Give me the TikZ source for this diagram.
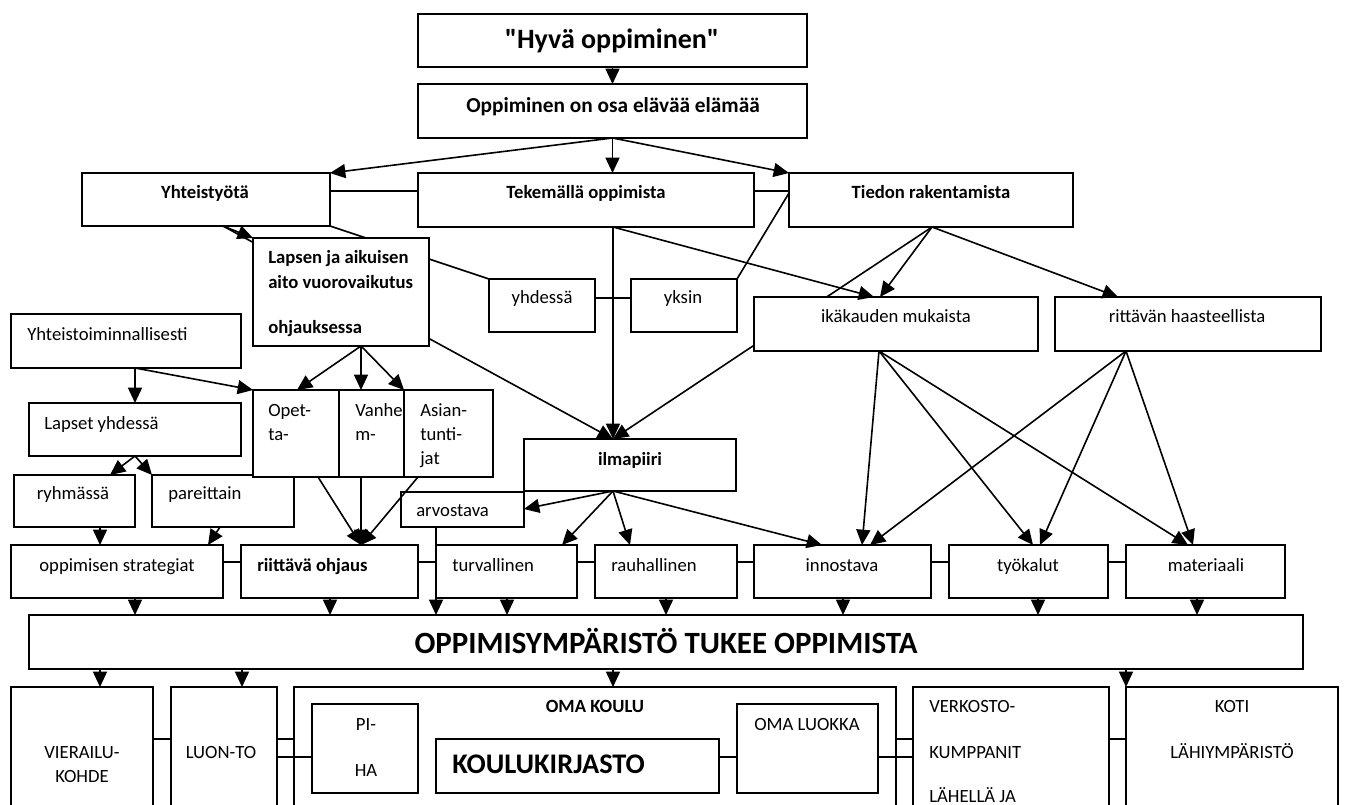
\documentclass[tikz,border=0pt]{standalone}
\usepackage{fontspec}
\setmainfont{Carlito}[Ligatures=TeXOff]
\usetikzlibrary{arrows.meta,calc}
\pgfdeclarelayer{bg}
\pgfsetlayers{bg,main}
\tikzset{
 boxst/.style={draw, fill=white, line width=1.35pt, inner sep=0pt, outer sep=0pt, rectangle},
 tx/.style={inner sep=0pt, anchor=base, font=\fontsize{14}{16}\selectfont},
 txl/.style={tx, anchor=base west},
 bf/.style={font=\fontsize{14}{16}\selectfont\bfseries},
 con/.style={line width=1.2pt},
 arr/.style={con, -{Triangle[length=11.5pt,width=10.5pt]}},
}
\newcommand\mkbox[5]{\node[boxst,minimum width={(#4-#2)*0.75pt},minimum height={(#5-#3)*0.75pt},anchor=north west] (#1) at (#2,#3) {};}
\begin{document}
\begin{tikzpicture}[x=0.75pt,y=-0.75pt]
\path[use as bounding box] (0,0) rectangle (1345,805);
\clip (0,0) rectangle (1345,805);
% ---------- boxes
\mkbox{hyva}{418}{14}{807}{67}
\mkbox{opp}{418}{84}{807}{138}
\mkbox{yht}{82}{173}{330}{226}
\mkbox{tek}{418}{173}{754}{227}
\mkbox{tie}{789}{173}{1073}{227}
\mkbox{lap}{253}{238}{429}{346}
\mkbox{yhd}{489}{279}{595}{332}
\mkbox{yks}{631}{279}{737}{332}
\mkbox{ika}{754}{297}{1038}{351}
\mkbox{rit}{1055}{297}{1321}{351}
\mkbox{ytm}{11}{314}{241}{368}
\mkbox{lye}{29}{403}{241}{456}
\mkbox{ryh}{14}{475}{135}{527}
\mkbox{par}{152}{475}{294}{527}
\mkbox{ope}{253}{390}{339}{477}
\mkbox{van}{339}{390}{404}{477}
\mkbox{asi}{404}{390}{493}{477}
\mkbox{ilm}{524}{439}{736}{491}
\mkbox{arv}{401}{492}{524}{527}
\mkbox{str}{11}{545}{223}{598}
\mkbox{rii}{241}{545}{418}{598}
\mkbox{tur}{436}{545}{577}{598}
\mkbox{rau}{595}{545}{737}{598}
\mkbox{inn}{754}{545}{931}{598}
\mkbox{tyo}{949}{545}{1108}{598}
\mkbox{mat}{1126}{545}{1285}{598}
\mkbox{ops}{29}{615}{1303}{669}
\mkbox{vie}{11}{687}{153}{830}
\mkbox{luo}{171}{687}{277}{830}
\mkbox{oma}{294}{687}{896}{830}
\mkbox{pih}{312}{704}{418}{793}
\mkbox{kou}{436}{739}{719}{793}
\mkbox{olu}{737}{704}{878}{793}
\mkbox{ver}{913}{687}{1109}{830}
\mkbox{kot}{1126}{687}{1338}{830}
% ---------- reference points on nodes
\coordinate (yB) at ($(yht.south west)+(141,0)$);
\coordinate (tkB) at ($(tek.south west)+(195,0)$);
\coordinate (tB) at ($(tie.south west)+(143,0)$);
\coordinate (ilmT) at ($(ilm.north west)+(89,0)$);
\coordinate (ilB) at ($(ilm.south west)+(89,0)$);
\coordinate (ytB) at ($(ytm.south west)+(124,0)$);
\coordinate (lapB) at ($(lap.south west)+(108,0)$);
\coordinate (riiT) at ($(rii.north west)+(120,0)$);
\coordinate (lyB) at ($(lye.south west)+(106,0)$);
\coordinate (ikB) at ($(ika.south west)+(125,0)$);
\coordinate (riB) at ($(rit.south west)+(71,0)$);
% ---------- connectors hidden behind boxes
\begin{pgfonlayer}{bg}
\draw[con] (yht.south east) -- (yhd.north west);
\draw[arr] (yB) -- (ilmT);
\draw[arr] (tB) -- (ilmT);
\end{pgfonlayer}
% ---------- connectors
\draw[arr] (opp.south |- hyva.south) -- (opp.south |- opp.north);
\draw[arr] (opp.south) -- (yht.north east);
\draw[arr] (opp.south) -- (opp.south |- tek.north);
\draw[arr] (opp.south) -- (tie.north west);
\draw[con] ($(yht.north east)+(0,18)$) -- ($(tek.north west)+(0,18)$);
\draw[con] ($(tek.north east)+(0,18)$) -- ($(tie.north west)+(0,18)$);
\draw[arr] (yB) -- (lap.north west);
\draw[arr] (tkB) -- (ilmT);
\draw[arr] (tkB) -- ($(ika.north west)+(120,0)$);
\draw[arr] (tB) -- ($(ika.north west)+(126,0)$);
\draw[arr] (tB) -- ($(rit.north west)+(63,0)$);
\draw[con] ($(yhd.north east)+(0,19)$) -- ($(yks.north west)+(0,19)$);
\draw[con] (yks.north east) -- ($(tie.north west)+(0,20)$);
\draw[arr] (ytB) -- (ytB |- lye.north);
\draw[arr] (ytB) -- (ope.north west);
\draw[arr] (lapB) -- ($(ope.north west)+(44,0)$);
\draw[arr] (lapB) -- (lapB |- van.north);
\draw[arr] (lapB) -- (asi.north west);
\draw[arr] ($(ope.south west)+(65,0)$) -- (riiT);
\draw[arr] ($(van.south west)+(22,0)$) -- (riiT);
\draw[arr] ($(asi.south west)+(14,0)$) -- (riiT);
\draw[arr] (lyB) -- ($(ryh.north west)+(96,0)$);
\draw[arr] (lyB) -- (par.north west);
\draw[arr] ($(ryh.south west)+(86,0)$) coordinate (rb) -- (rb |- str.north);
\draw[arr] ($(par.south west)+(68,0)$) -- ($(str.north west)+(197,0)$);
\draw[con] ($(str.north east)+(0,17)$) -- ($(rii.north west)+(0,17)$);
\draw[con] ($(rii.north east)+(0,17)$) -- ($(tur.north west)+(0,17)$);
\draw[con] ($(tur.north east)+(0,17)$) -- ($(rau.north west)+(0,17)$);
\draw[con] ($(rau.north east)+(0,17)$) -- ($(inn.north west)+(0,17)$);
\draw[con] ($(inn.north east)+(0,17)$) -- ($(tyo.north west)+(0,17)$);
\draw[con] ($(tyo.north east)+(0,17)$) -- ($(mat.north west)+(0,17)$);
\draw[arr] (ilB) -- ($(arv.north east)+(0,17)$);
\draw[arr] (ilB) -- ($(tur.north west)+(126,0)$);
\draw[arr] (ilB) -- ($(rau.north west)+(35,0)$);
\draw[arr] (ilB) -- ($(inn.north west)+(68,0)$);
\draw[arr] (ikB) -- ($(inn.north west)+(108,0)$);
\draw[arr] (ikB) -- ($(tyo.north west)+(84,0)$);
\draw[arr] (ikB) -- ($(mat.north west)+(62,0)$);
\draw[arr] (riB) -- ($(inn.north west)+(116,0)$);
\draw[arr] (riB) -- ($(tyo.north west)+(91,0)$);
\draw[arr] (riB) -- ($(mat.north west)+(67,0)$);
\draw[arr] ($(arv.south west)+(35,0)$) coordinate (ab) -- (ab |- ops.north);
\draw[arr] ($(str.south west)+(124,0)$) coordinate (s1) -- (s1 |- ops.north);
\draw[arr] ($(rii.south west)+(89,0)$) coordinate (s2) -- (s2 |- ops.north);
\draw[arr] ($(tur.south west)+(71,0)$) coordinate (s3) -- (s3 |- ops.north);
\draw[arr] ($(rau.south west)+(71,0)$) coordinate (s4) -- (s4 |- ops.north);
\draw[arr] ($(inn.south west)+(89,0)$) coordinate (s5) -- (s5 |- ops.north);
\draw[arr] ($(tyo.south west)+(89,0)$) coordinate (s6) -- (s6 |- ops.north);
\draw[arr] ($(mat.south west)+(71,0)$) coordinate (s7) -- (s7 |- ops.north);
\draw[arr] ($(ops.south west)+(71,0)$) coordinate (o1) -- (o1 |- vie.north);
\draw[arr] ($(ops.south west)+(213,0)$) coordinate (o2) -- (o2 |- luo.north);
\draw[arr] ($(ops.south west)+(584,0)$) coordinate (o3) -- (o3 |- oma.north);
\draw[arr] (kot.north west |- ops.south) -- (kot.north west);
\draw[con] ($(vie.north east)+(0,52)$) -- ($(luo.north west)+(0,52)$);
\draw[con] ($(luo.north east)+(0,52)$) -- ($(oma.north west)+(0,52)$);
\draw[con] ($(luo.north east)+(0,70)$) -- ($(pih.north west)+(0,53)$);
\draw[con] ($(kou.north east)+(0,18)$) -- ($(olu.north west)+(0,53)$);
\draw[con] ($(olu.north east)+(0,53)$) -- ($(ver.north west)+(0,70)$);
\draw[con] ($(oma.north east)+(0,52)$) -- ($(ver.north west)+(0,52)$);
\draw[con] ($(ver.north east)+(0,52)$) -- ($(kot.north west)+(0,52)$);
% ---------- texts
\node[tx,font=\fontsize{21}{25}\selectfont\bfseries] (t1) at (612,49) {"Hyvä oppiminen"};
\node[tx,font=\fontsize{16}{19}\selectfont\bfseries] (t2) at (613,113) {Oppiminen on osa elävää elämää};
\node[tx,bf] (t3) at (205,199) {Yhteistyötä};
\node[tx,bf] (t4) at (586,199) {Tekemällä oppimista};
\node[tx,bf] (t5) at (931,199) {Tiedon rakentamista};
\node[txl,bf] (t6) at (268,264) {Lapsen ja aikuisen};
\node[txl,bf] (t7) at (268,289) {aito vuorovaikutus};
\node[txl,bf] (t8) at (268,334) {ohjauksessa};
\node[tx] (t9) at (542,304) {yhdessä};
\node[tx] (t10) at (683,304) {yksin};
\node[tx] (t11) at (896,323) {ikäkauden mukaista};
\node[tx] (t12) at (1187,323) {rittävän haasteellista};
\node[txl] (t13) at (27,340) {Yhteistoiminnallisesti};
\node[txl] (t14) at (44,429) {Lapset yhdessä};
\node[txl] (t15) at (268,416) {Opet-};
\node[txl] (t16) at (268,440) {ta-};
\node[txl] (t17) at (355,416) {Vanhe};
\node[txl] (t18) at (355,440) {m-};
\node[txl] (t19) at (420,416) {Asian-};
\node[txl] (t20) at (420,440) {tunti-};
\node[txl] (t21) at (420,464) {jat};
\node[tx,bf] (t22) at (630,465) {ilmapiiri};
\node[tx] (t23) at (73,499) {ryhmässä};
\node[txl] (t24) at (168,499) {pareittain};
\node[txl] (t25) at (416,516) {arvostava};
\node[tx] (t26) at (117,571) {oppimisen strategiat};
\node[txl,bf] (t27) at (257,571) {riittävä ohjaus};
\node[txl] (t28) at (452,571) {turvallinen};
\node[txl] (t29) at (611,571) {rauhallinen};
\node[tx] (t30) at (842,571) {innostava};
\node[tx] (t31) at (1028,571) {työkalut};
\node[tx] (t32) at (1206,571) {materiaali};
\node[tx,font=\fontsize{23.2}{27}\selectfont\bfseries] (t33) at (666,653) {OPPIMISYMPÄRISTÖ TUKEE OPPIMISTA};
\node[tx] (t34) at (82,758) {VIERAILU-};
\node[tx] (t35) at (82,782) {KOHDE};
\node[tx] (t36) at (221,758) {LUON-TO};
\node[tx,bf] (t37) at (595,712) {OMA KOULU};
\node[tx] (t38) at (366,730) {PI-};
\node[tx] (t39) at (366,776) {HA};
\node[txl,font=\fontsize{21.3}{25}\selectfont\bfseries] (t40) at (452,773) {KOULUKIRJASTO};
\node[tx] (t41) at (807,730) {OMA LUOKKA};
\node[txl] (t42) at (929,712) {VERKOSTO-};
\node[txl] (t43) at (929,758) {KUMPPANIT};
\node[txl] (t44) at (929,802) {LÄHELLÄ JA};
\node[tx] (t45) at (1232,712) {KOTI};
\node[tx] (t46) at (1232,758) {LÄHIYMPÄRISTÖ};
\end{tikzpicture}
\end{document}
